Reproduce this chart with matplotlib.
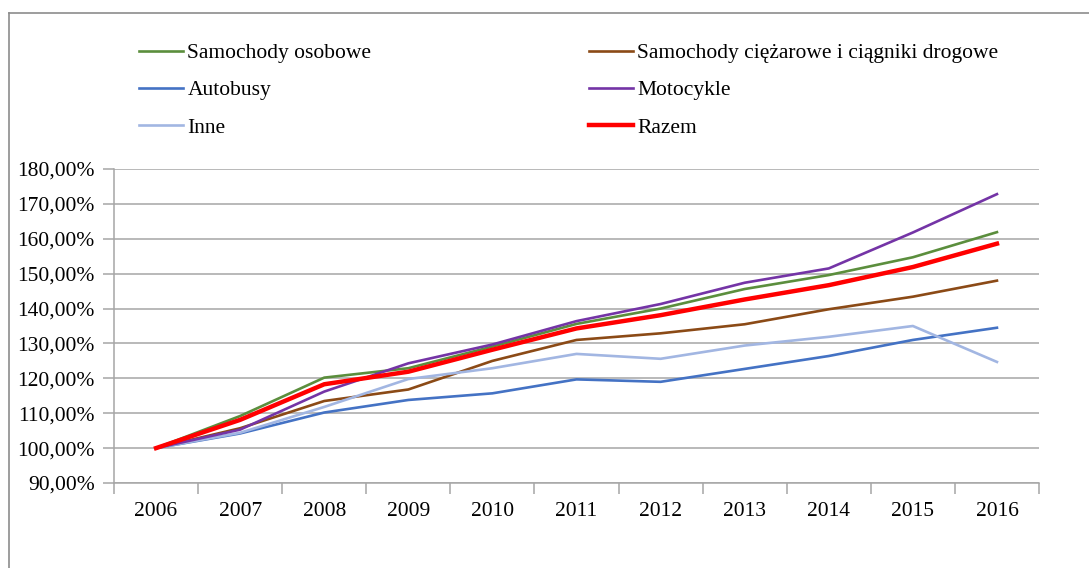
import matplotlib
matplotlib.use('Agg')
import matplotlib.pyplot as plt
from matplotlib.lines import Line2D
from matplotlib.ticker import FixedLocator, FuncFormatter

# Dane (wartości w %, 2006 = 100%)
lata = ['2006', '2007', '2008', '2009', '2010', '2011', '2012', '2013', '2014', '2015', '2016']
osobowe = [100.0, 109.2, 120.2, 122.9, 129.1, 135.6, 140.0, 145.6, 149.6, 154.7, 161.9]
ciezarowe = [100.0, 105.7, 113.5, 116.8, 125.0, 131.0, 132.9, 135.5, 139.8, 143.4, 148.0]
autobusy = [100.0, 104.2, 110.2, 113.8, 115.7, 119.7, 119.0, 122.7, 126.4, 131.0, 134.5]
motocykle = [100.0, 105.3, 116.2, 124.3, 129.7, 136.4, 141.3, 147.4, 151.5, 161.8, 172.8]
inne = [100.0, 104.4, 111.8, 119.8, 122.9, 127.0, 125.6, 129.4, 131.9, 135.0, 124.7]
razem = [100.0, 108.1, 118.3, 121.9, 128.2, 134.3, 138.1, 142.6, 146.7, 151.9, 158.6]

plt.rcParams['font.family'] = ['Liberation Serif', 'DejaVu Serif']

fig = plt.figure(figsize=(10.89, 5.68), dpi=100)
ax = fig.add_axes([114 / 1089, 1 - 483 / 568, (1039 - 114) / 1089, (483 - 169) / 568])

x = list(range(len(lata)))
l_os, = ax.plot(x, osobowe, color='#5B8E3D', lw=1.9, label='Samochody osobowe')
l_ci, = ax.plot(x, ciezarowe, color='#8B4A16', lw=1.9, label='Samochody ciężarowe i ciągniki drogowe')
l_au, = ax.plot(x, autobusy, color='#4472C4', lw=1.9, label='Autobusy')
l_in, = ax.plot(x, inne, color='#A2B6E2', lw=1.9, label='Inne')
l_mo, = ax.plot(x, motocykle, color='#7434A6', lw=1.9, label='Motocykle')
l_ra, = ax.plot(x, razem, color='#FF0000', lw=3.2, label='Razem')

ax.set_xlim(-0.5, len(lata) - 0.5)
ax.set_ylim(90, 180)
ax.set_yticks(range(90, 181, 10))
ax.yaxis.set_major_formatter(FuncFormatter(lambda v, p: f'{v:.2f}%'.replace('.', ',')))
ax.grid(axis='y', color='#A6A6A6', lw=1.1)
ax.set_axisbelow(True)

# znaczniki osi X na granicach kategorii, podpisy na środkach
ax.xaxis.set_major_locator(FixedLocator([i - 0.5 for i in range(len(lata) + 1)]))
ax.xaxis.set_major_formatter(FuncFormatter(lambda v, p: ''))
ax.xaxis.set_minor_locator(FixedLocator(x))
ax.set_xticklabels(lata, minor=True)
ax.tick_params(axis='x', which='major', length=8, color='#A6A6A6', width=1.1)
ax.tick_params(axis='x', which='minor', length=0, pad=14, labelsize=15.5)
ax.tick_params(axis='y', length=8, color='#A6A6A6', width=1.1, labelsize=15.5, pad=6)

for s in ['top', 'right']:
    ax.spines[s].set_visible(False)
for s in ['left', 'bottom']:
    ax.spines[s].set_color('#A6A6A6')
    ax.spines[s].set_linewidth(1.1)

fig.legend(handles=[l_os, l_au, l_in, l_ci, l_mo, l_ra], ncol=2, loc='upper left',
           bbox_to_anchor=(139 / 1089, 1 - 43 / 568), frameon=False, fontsize=15.5,
           handlelength=2.05, handletextpad=0.2, columnspacing=10.1,
           labelspacing=0.8, borderpad=0, borderaxespad=0)

# ramka wykresu
fig.add_artist(Line2D([9 / 1089, 1], [1 - 13 / 568, 1 - 13 / 568], color='#8C8C8C', lw=1.2))
fig.add_artist(Line2D([9 / 1089, 9 / 1089], [0, 1 - 13 / 568], color='#8C8C8C', lw=1.2))

fig.savefig('out.png', dpi=100)
